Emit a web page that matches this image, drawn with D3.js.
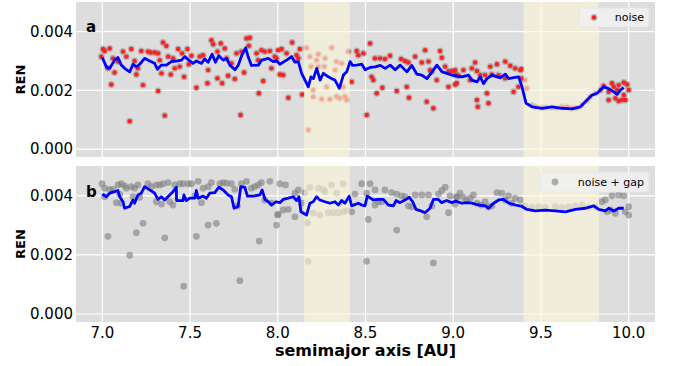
<!DOCTYPE html>
<html>
<head>
<meta charset="utf-8">
<script src="https://cdn.jsdelivr.net/npm/d3@7"></script>
<style>
  body { margin: 0; background: #fff; }
  svg { display: block; font-family: "DejaVu Sans", sans-serif; }
</style>
</head>
<body>
<svg width="676" height="366"></svg>
<script>
const xTicks = [7.0, 7.5, 8.0, 8.5, 9.0, 9.5, 10.0];
const yTicks = [0, 0.002, 0.004];
const bands = [[8.15, 8.41], [9.40, 9.83]];

// panel a: noise
const noisePoints = [
  [7.004,0.00341],[7.042,0.00343],[7.013,0.00334],[6.994,0.00315],[7.061,0.00309],[7.089,0.00298],[7.032,0.00275],[7.070,0.00261],
  [7.051,0.00220],[7.118,0.00332],[7.137,0.00315],[7.165,0.00341],[7.184,0.00300],[7.194,0.00254],[7.156,0.00095],[7.203,0.00275],
  [7.222,0.00334],[7.232,0.00218],[7.260,0.00332],[7.276,0.00329],[7.299,0.00329],[7.318,0.00326],[7.327,0.00303],[7.318,0.00198],
  [7.346,0.00363],[7.365,0.00351],[7.337,0.00258],[7.356,0.00114],[7.375,0.00315],[7.390,0.00254],[7.403,0.00309],[7.413,0.00275],
  [7.432,0.00341],[7.455,0.00326],[7.441,0.00281],[7.466,0.00246],[7.485,0.00341],[7.508,0.00318],[7.493,0.00289],[7.536,0.00209],
  [7.555,0.00315],[7.574,0.00320],[7.603,0.00269],[7.599,0.00224],[7.622,0.00371],[7.632,0.00357],[7.656,0.00332],[7.656,0.00241],
  [7.675,0.00360],[7.683,0.00224],[7.698,0.00343],[7.708,0.00309],[7.717,0.00250],[7.736,0.00292],[7.755,0.00239],[7.765,0.00326],
  [7.793,0.00332],[7.808,0.00261],[7.822,0.00377],[7.835,0.00352],[7.841,0.00379],[7.788,0.00116],[7.879,0.00326],[7.907,0.00337],
  [7.888,0.00303],[7.917,0.00232],[7.926,0.00332],[7.955,0.00334],[7.964,0.00275],[7.892,0.00190],[7.983,0.00315],[8.002,0.00337],
  [8.012,0.00254],[7.993,0.00309],[8.022,0.00341],[8.082,0.00363],[8.050,0.00326],[8.031,0.00252],[8.060,0.00175],[8.126,0.00341],
  [8.107,0.00320],[8.117,0.00309],[8.164,0.00345],[8.183,0.00315],[8.231,0.00323],[8.221,0.00303],[8.189,0.00281],[8.231,0.00281],
  [8.269,0.00309],[8.265,0.00281],[8.307,0.00345],[8.202,0.00201],[8.202,0.00178],[8.250,0.00170],[8.297,0.00170],[8.335,0.00178],
  [8.354,0.00173],[8.383,0.00178],[8.393,0.00167],[8.335,0.00298],[8.326,0.00269],[8.364,0.00292],[8.374,0.00212],[8.402,0.00332],
  [8.450,0.00334],[8.488,0.00326],[8.526,0.00360],[8.421,0.00229],[8.459,0.00320],[8.174,0.00065],[8.139,0.00186],[8.278,0.00212],
  [8.535,0.00246],[8.554,0.00309],[8.583,0.00309],[8.611,0.00307],[8.640,0.00318],[8.545,0.00235],[8.564,0.00190],[8.596,0.00209],
  [8.507,0.00116],[8.678,0.00198],[8.703,0.00307],[8.725,0.00300],[8.744,0.00295],[8.735,0.00212],[8.748,0.00175],[8.783,0.00315],
  [8.821,0.00295],[8.840,0.00337],[8.859,0.00298],[8.878,0.00264],[8.849,0.00161],[8.887,0.00139],[8.925,0.00334],[8.935,0.00311],
  [8.906,0.00235],[8.954,0.00281],[8.973,0.00264],[8.992,0.00266],[9.011,0.00254],[9.020,0.00224],[8.973,0.00212],[9.030,0.00250],
  [8.868,0.00269],[9.011,0.00269],[9.020,0.00252],[9.058,0.00269],[9.106,0.00275],[9.125,0.00295],[9.135,0.00266],[9.096,0.00235],
  [9.154,0.00252],[9.182,0.00252],[9.211,0.00281],[9.249,0.00289],[9.296,0.00298],[9.325,0.00284],[9.353,0.00275],[9.382,0.00269],
  [9.391,0.00273],[9.220,0.00254],[9.258,0.00252],[9.296,0.00241],[9.344,0.00195],[9.372,0.00212],[9.192,0.00190],[9.201,0.00156],
  [9.135,0.00167],[9.140,0.00144],[9.391,0.00241],[9.410,0.00235],[9.011,0.00220],[9.420,0.00207],[9.448,0.00150],[9.506,0.00141],
  [9.563,0.00141],[9.620,0.00144],[9.677,0.00139],[9.734,0.00150],[9.762,0.00164],[9.781,0.00178],[9.810,0.00190],[9.838,0.00201],
  [9.470,0.00144],[9.530,0.00142],[9.590,0.00140],[9.650,0.00144],[9.700,0.00140],
  [9.857,0.00215],[9.905,0.00224],[9.943,0.00218],[9.972,0.00227],[9.991,0.00220],[9.886,0.00195],[9.934,0.00201],[10.000,0.00201],
  [9.886,0.00167],[9.924,0.00173],[9.962,0.00167],[9.981,0.00167],[9.943,0.00164],[9.915,0.00212],[9.972,0.00184]
];

const noiseLine = [
  [7.000,0.00312],[7.023,0.00280],[7.042,0.00275],[7.070,0.00303],[7.089,0.00312],[7.108,0.00286],[7.127,0.00275],[7.156,0.00263],
  [7.175,0.00289],[7.194,0.00280],[7.213,0.00289],[7.241,0.00309],[7.270,0.00300],[7.298,0.00292],[7.314,0.00272],[7.336,0.00286],
  [7.365,0.00286],[7.393,0.00298],[7.422,0.00300],[7.451,0.00303],[7.470,0.00315],[7.493,0.00303],[7.517,0.00292],[7.536,0.00300],
  [7.565,0.00292],[7.584,0.00307],[7.603,0.00296],[7.626,0.00323],[7.645,0.00296],[7.664,0.00318],[7.689,0.00303],[7.708,0.00309],
  [7.727,0.00286],[7.756,0.00270],[7.775,0.00286],[7.794,0.00318],[7.817,0.00345],[7.831,0.00315],[7.850,0.00285],[7.889,0.00286],
  [7.908,0.00303],[7.946,0.00309],[7.974,0.00298],[7.995,0.00300],[8.012,0.00289],[8.050,0.00303],[8.079,0.00315],[8.098,0.00296],
  [8.117,0.00298],[8.136,0.00258],[8.174,0.00212],[8.189,0.00246],[8.203,0.00240],[8.222,0.00275],[8.241,0.00235],[8.260,0.00258],
  [8.288,0.00246],[8.307,0.00240],[8.326,0.00235],[8.351,0.00207],[8.374,0.00252],[8.393,0.00263],[8.412,0.00298],[8.426,0.00285],
  [8.450,0.00286],[8.479,0.00289],[8.498,0.00270],[8.526,0.00278],[8.555,0.00280],[8.584,0.00285],[8.612,0.00275],[8.641,0.00286],
  [8.669,0.00270],[8.698,0.00286],[8.736,0.00263],[8.764,0.00285],[8.793,0.00255],[8.821,0.00252],[8.850,0.00240],[8.879,0.00263],
  [8.907,0.00286],[8.936,0.00263],[8.964,0.00258],[8.993,0.00252],[9.030,0.00248],[9.049,0.00246],[9.087,0.00252],[9.106,0.00235],
  [9.135,0.00229],[9.154,0.00246],[9.173,0.00223],[9.192,0.00240],[9.221,0.00252],[9.249,0.00246],[9.268,0.00243],[9.297,0.00255],
  [9.316,0.00240],[9.344,0.00243],[9.373,0.00246],[9.392,0.00212],[9.415,0.00156],[9.449,0.00144],[9.506,0.00139],[9.563,0.00144],
  [9.620,0.00139],[9.677,0.00137],[9.725,0.00144],[9.753,0.00161],[9.791,0.00184],[9.820,0.00190],[9.858,0.00212],[9.886,0.00206],
  [9.915,0.00195],[9.934,0.00186],[9.953,0.00201],[9.972,0.00209]
];

// panel b: noise + gap
const gapPoints = [
  [6.998,0.00441],[7.013,0.00426],[7.042,0.00422],[7.061,0.00422],[7.089,0.00437],[7.108,0.00441],[7.127,0.00434],[7.137,0.00426],
  [7.099,0.00406],[7.080,0.00377],[7.165,0.00431],[7.184,0.00426],[7.203,0.00437],[7.175,0.00397],[7.213,0.00395],[7.232,0.00307],
  [7.194,0.00275],[7.156,0.00199],[7.032,0.00263],[7.260,0.00441],[7.280,0.00431],[7.308,0.00437],[7.327,0.00437],[7.346,0.00441],
  [7.375,0.00445],[7.308,0.00380],[7.337,0.00372],[7.384,0.00380],[7.403,0.00369],[7.356,0.00258],[7.413,0.00437],[7.441,0.00441],
  [7.460,0.00441],[7.489,0.00441],[7.508,0.00441],[7.527,0.00400],[7.546,0.00449],[7.565,0.00377],[7.536,0.00263],[7.574,0.00426],
  [7.603,0.00431],[7.622,0.00445],[7.603,0.00301],[7.650,0.00307],[7.670,0.00441],[7.689,0.00445],[7.708,0.00443],[7.736,0.00441],
  [7.755,0.00422],[7.770,0.00366],[7.793,0.00441],[7.822,0.00449],[7.850,0.00426],[7.869,0.00431],[7.888,0.00437],[7.907,0.00445],
  [7.955,0.00449],[7.926,0.00386],[7.964,0.00375],[7.894,0.00247],[7.999,0.00335],[7.993,0.00301],[7.784,0.00113],[7.108,0.00375],
  [7.013,0.00397],[7.464,0.00094],
  [8.012,0.00441],[8.044,0.00437],[8.002,0.00338],[8.031,0.00352],[8.060,0.00354],[8.098,0.00329],[8.136,0.00375],[8.098,0.00409],
  [8.117,0.00420],[8.155,0.00411],[8.170,0.00309],[8.183,0.00429],[8.231,0.00426],[8.259,0.00422],[8.269,0.00414],[8.307,0.00437],
  [8.373,0.00441],[8.335,0.00409],[8.364,0.00380],[8.202,0.00341],[8.240,0.00335],[8.288,0.00343],[8.316,0.00343],[8.345,0.00343],
  [8.374,0.00346],[8.393,0.00350],[8.174,0.00179],[8.421,0.00346],[8.440,0.00406],[8.478,0.00441],[8.526,0.00441],[8.507,0.00409],
  [8.516,0.00320],[8.554,0.00420],[8.611,0.00420],[8.649,0.00411],[8.678,0.00406],[8.706,0.00400],[8.554,0.00369],[8.573,0.00380],
  [8.592,0.00380],[8.507,0.00179],[8.678,0.00284],[8.725,0.00397],[8.744,0.00366],[8.764,0.00363],[8.783,0.00403],[8.821,0.00403],
  [8.859,0.00403],[8.878,0.00366],[8.916,0.00406],[8.935,0.00418],[8.954,0.00429],[8.982,0.00400],[8.973,0.00343],[9.011,0.00372],
  [9.020,0.00397],[8.887,0.00173],[8.849,0.00329],
  [9.020,0.00395],[9.039,0.00409],[9.058,0.00395],[9.077,0.00384],[9.097,0.00392],[9.115,0.00403],[9.135,0.00375],[9.159,0.00369],
  [9.182,0.00380],[9.201,0.00363],[9.220,0.00366],[9.249,0.00411],[9.277,0.00409],[9.296,0.00386],[9.315,0.00400],[9.334,0.00375],
  [9.353,0.00392],[9.382,0.00386],[9.410,0.00366],[9.448,0.00361],[9.487,0.00363],[9.525,0.00361],[9.582,0.00363],[9.620,0.00361],
  [9.658,0.00363],[9.696,0.00366],[9.734,0.00369],[9.772,0.00361],[9.810,0.00363],[9.848,0.00380],[9.867,0.00386],[9.877,0.00346],
  [9.905,0.00400],[9.943,0.00403],[9.972,0.00400],[10.000,0.00363],[9.981,0.00346],[10.000,0.00335],[9.924,0.00341],[9.896,0.00352]
];

const gapLine = [
  [7.000,0.00406],[7.023,0.00397],[7.042,0.00409],[7.070,0.00414],[7.089,0.00418],[7.099,0.00397],[7.118,0.00380],[7.127,0.00358],
  [7.156,0.00364],[7.175,0.00386],[7.184,0.00375],[7.203,0.00403],[7.222,0.00409],[7.241,0.00431],[7.270,0.00420],[7.298,0.00409],
  [7.317,0.00388],[7.336,0.00397],[7.355,0.00386],[7.374,0.00397],[7.403,0.00414],[7.422,0.00429],[7.423,0.00384],[7.460,0.00384],
  [7.465,0.00403],[7.479,0.00384],[7.498,0.00392],[7.527,0.00392],[7.536,0.00418],[7.546,0.00392],[7.574,0.00399],[7.593,0.00392],
  [7.612,0.00409],[7.641,0.00411],[7.664,0.00429],[7.689,0.00420],[7.717,0.00403],[7.736,0.00397],[7.751,0.00358],[7.774,0.00364],
  [7.789,0.00431],[7.812,0.00429],[7.827,0.00399],[7.860,0.00399],[7.898,0.00403],[7.911,0.00420],[7.927,0.00388],[7.955,0.00375],
  [7.965,0.00369],[7.990,0.00380],[8.012,0.00377],[8.031,0.00388],[8.060,0.00392],[8.088,0.00397],[8.107,0.00384],[8.121,0.00397],
  [8.132,0.00346],[8.164,0.00335],[8.183,0.00375],[8.202,0.00380],[8.221,0.00397],[8.240,0.00386],[8.269,0.00380],[8.297,0.00375],
  [8.326,0.00380],[8.345,0.00369],[8.364,0.00384],[8.383,0.00375],[8.407,0.00399],[8.421,0.00366],[8.459,0.00375],[8.478,0.00369],
  [8.497,0.00366],[8.510,0.00399],[8.545,0.00386],[8.573,0.00388],[8.602,0.00388],[8.630,0.00369],[8.659,0.00366],[8.674,0.00384],
  [8.697,0.00377],[8.725,0.00386],[8.750,0.00395],[8.769,0.00380],[8.788,0.00354],[8.815,0.00349],[8.839,0.00343],[8.868,0.00358],
  [8.887,0.00388],[8.915,0.00388],[8.934,0.00377],[8.963,0.00384],[8.991,0.00377],[9.015,0.00382],[9.049,0.00375],[9.078,0.00377],
  [9.106,0.00375],[9.144,0.00369],[9.183,0.00366],[9.202,0.00358],[9.230,0.00375],[9.259,0.00386],[9.287,0.00388],[9.316,0.00375],
  [9.354,0.00369],[9.392,0.00364],[9.420,0.00354],[9.468,0.00349],[9.525,0.00352],[9.582,0.00349],[9.639,0.00346],[9.696,0.00354],
  [9.753,0.00358],[9.801,0.00366],[9.829,0.00354],[9.867,0.00349],[9.886,0.00358],[9.915,0.00349],[9.943,0.00358],[9.972,0.00358]
];

const svg = d3.select("svg");
const x = d3.scaleLinear().domain([6.85, 10.15]).range([76, 655]);
const yDomain = [-0.00027, 0.00501];

const panels = [
  { top: 2, bottom: 157, points: noisePoints, line: noiseLine, tag: "a", legend: "noise",
    box: [579, 8, 70, 19], kind: "noise" },
  { top: 166, bottom: 322, points: gapPoints, line: gapLine, tag: "b", legend: "noise + gap",
    box: [540, 172, 109, 20], kind: "gap" }
];

// red dot with a soft grey rim, or a plain translucent grey dot
function addMarkers(parent, data, kind, cx, cy) {
  if (kind === "noise") {
    parent.append("g").selectAll("circle").data(data).join("circle")
      .attr("cx", cx).attr("cy", cy).attr("r", 3.5)
      .attr("fill", "#8c8c8c").attr("fill-opacity", 0.5);
    parent.append("g").selectAll("circle").data(data).join("circle")
      .attr("cx", cx).attr("cy", cy).attr("r", 2.2)
      .attr("fill", "#ff1f1f");
  } else {
    parent.append("g").selectAll("circle").data(data).join("circle")
      .attr("cx", cx).attr("cy", cy).attr("r", 3.4)
      .attr("fill", "#7f7f7f").attr("fill-opacity", 0.6);
  }
}

panels.forEach(p => {
  const y = d3.scaleLinear().domain(yDomain).range([p.bottom, p.top]);
  const g = svg.append("g");

  g.append("rect")
    .attr("x", x.range()[0]).attr("y", p.top)
    .attr("width", x.range()[1] - x.range()[0]).attr("height", p.bottom - p.top)
    .attr("fill", "#dddddd");

  // grid
  g.selectAll(".vg").data(xTicks).join("line")
    .attr("x1", d => x(d)).attr("x2", d => x(d))
    .attr("y1", p.top).attr("y2", p.bottom)
    .attr("stroke", "#fff").attr("stroke-width", 1.2);
  g.selectAll(".hg").data(yTicks).join("line")
    .attr("x1", x.range()[0]).attr("x2", x.range()[1])
    .attr("y1", d => y(d)).attr("y2", d => y(d))
    .attr("stroke", "#fff").attr("stroke-width", 1.2);

  // scatter
  addMarkers(g, p.points, p.kind, d => x(d[0]), d => y(d[1]));

  // shaded bands
  g.selectAll(".band").data(bands).join("rect")
    .attr("x", d => x(d[0])).attr("width", d => x(d[1]) - x(d[0]))
    .attr("y", p.top).attr("height", p.bottom - p.top)
    .attr("fill", "#fbf8d8").attr("fill-opacity", 0.62);

  // running line
  g.append("path").datum(p.line)
    .attr("d", d3.line().x(d => x(d[0])).y(d => y(d[1])))
    .attr("fill", "none").attr("stroke", "#0000ff")
    .attr("stroke-width", 2.8).attr("stroke-linejoin", "round");

  // y tick labels
  g.selectAll(".yt").data(yTicks).join("text")
    .attr("x", 73).attr("y", d => y(d)).attr("dy", "0.36em")
    .attr("text-anchor", "end").attr("font-size", 15)
    .text(d3.format(".3f"));

  g.append("text")
    .attr("transform", `translate(25,${(p.top + p.bottom) / 2}) rotate(-90)`)
    .attr("text-anchor", "middle").attr("font-size", 13).attr("font-weight", "bold")
    .text("REN");

  g.append("text")
    .attr("x", 86).attr("y", p.top + (p.kind === "noise" ? 30 : 31))
    .attr("font-size", 15).attr("font-weight", "bold")
    .text(p.tag);

  // legend
  const [bx, by, bw, bh] = p.box;
  g.append("rect")
    .attr("x", bx).attr("y", by).attr("width", bw).attr("height", bh).attr("rx", 3)
    .attr("fill", "#f0f0f0").attr("fill-opacity", 0.9)
    .attr("stroke", "#e4e4e4").attr("stroke-width", 0.8);
  addMarkers(g, [[bx + 15, by + bh / 2]], p.kind, d => d[0], d => d[1]);
  g.append("text")
    .attr("x", bx + bw - 5).attr("y", by + bh / 2).attr("dy", "0.36em")
    .attr("text-anchor", "end").attr("font-size", 11)
    .text(p.legend);
});

// x axis labels (bottom panel)
svg.append("g").selectAll("text").data(xTicks).join("text")
  .attr("x", d => x(d)).attr("y", 338)
  .attr("text-anchor", "middle").attr("font-size", 15)
  .text(d3.format(".1f"));

svg.append("text")
  .attr("x", (x.range()[0] + x.range()[1]) / 2).attr("y", 356)
  .attr("text-anchor", "middle").attr("font-size", 16).attr("font-weight", "bold")
  .text("semimajor axis [AU]");
</script>
</body>
</html>
